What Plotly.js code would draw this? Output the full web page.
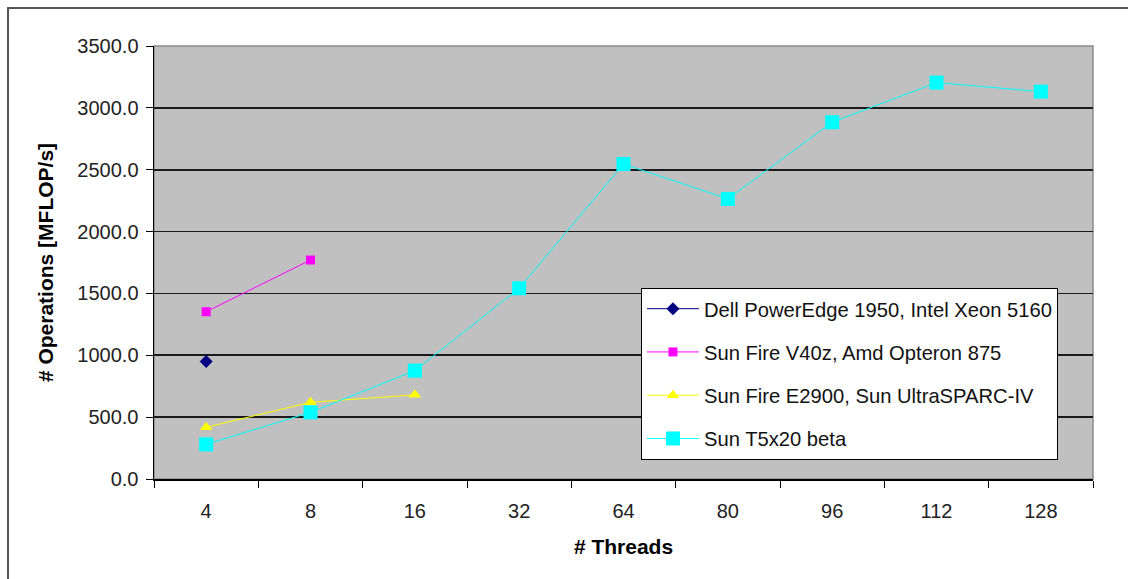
<!DOCTYPE html>
<html>
<head>
<meta charset="utf-8">
<script src="https://cdn.plot.ly/plotly-3.0.1.min.js"></script>
<style>
html,body{margin:0;padding:0;background:#fff;overflow:hidden;}
#wrap{position:relative;width:1128px;height:579px;}
#chart{width:1128px;height:579px;}
#frame{position:absolute;left:7px;top:7px;width:1140px;height:600px;border-left:2px solid #555;border-top:2px solid #555;pointer-events:none;}
</style>
</head>
<body>
<div id="wrap"><div id="chart"></div><div id="frame"></div></div>
<script>
const threads = ['4','8','16','32','64','80','96','112','128'];
const dellX = ['4'];
const dellY = [950];
const v40zX = ['4','8'];
const v40zY = [1352, 1770];
const e2900X = ['4','8','16'];
const e2900Y = [418, 620, 680];
const t5x20X = threads;
const t5x20Y = [280, 539, 876, 1542, 2546, 2264, 2884, 3204, 3131];
const seriesNames = [
  'Dell PowerEdge 1950, Intel Xeon 5160',
  'Sun Fire V40z, Amd Opteron 875',
  'Sun Fire E2900, Sun UltraSPARC-IV',
  'Sun T5x20 beta'
];

const FONT = 'Liberation Sans, Arial, sans-serif';

const traces = [
  {x: dellX, y: dellY, name: seriesNames[0], legendgroup:'a', mode:'lines+markers',
   line:{color:'#000080', width:1}, marker:{symbol:'diamond', size:10, color:'#000080'}},
  {x: v40zX, y: v40zY, name: seriesNames[1], legendgroup:'b', mode:'lines+markers',
   line:{color:'#FF00FF', width:1}, marker:{symbol:'square', size:9, color:'#FF00FF'}},
  {x: e2900X, y: e2900Y, name: seriesNames[2], legendgroup:'c', mode:'lines+markers',
   line:{color:'#FFFF00', width:1}, marker:{symbol:'triangle-up', size:11, color:'#FFFF00'}},
  {x: t5x20X, y: t5x20Y, name: seriesNames[3], legendgroup:'d', mode:'lines+markers',
   line:{color:'#00FFFF', width:1}, marker:{symbol:'square', size:14, color:'#00FFFF'}}
];

const layout = {
  width:1128, height:579,
  margin:{l:154, r:35, t:46, b:100},
  paper_bgcolor:'#ffffff',
  plot_bgcolor:'#C0C0C0',
  font:{family:FONT, size:20, color:'#222'},
  showlegend:true,
  legend:{x:0.5186, y:0.441, xanchor:'left', yanchor:'top',
    bgcolor:'#ffffff', bordercolor:'#000', borderwidth:1,
    font:{family:FONT, size:20.2, color:'#111'},
    traceorder:'grouped', tracegroupgap:14, itemwidth:52},
  xaxis:{type:'category', categoryorder:'array', categoryarray:threads,
    range:[-0.5, 8.5], tickson:'boundaries', ticks:'outside', ticklen:7,
    tickcolor:'#000', showline:true, linecolor:'#000', linewidth:1.5,
    showgrid:false, zeroline:false, fixedrange:true, ticklabelstandoff:13,
    tickfont:{family:FONT, size:20, color:'#222'},
    title:{text:'<b># Threads</b>', font:{family:FONT, size:21, color:'#000'}, standoff:19}},
  yaxis:{range:[0,3500], dtick:500, tickformat:'.1f', ticks:'outside', ticklen:7,
    tickcolor:'#000', showline:true, linecolor:'#000', linewidth:1.5,
    showgrid:true, gridcolor:'#1a1a1a', gridwidth:1.7, zeroline:false, fixedrange:true,
    ticklabelstandoff:3,
    tickfont:{family:FONT, size:20, color:'#222'},
    title:{text:'<b># Operations [MFLOP/s]</b>', font:{family:FONT, size:21, color:'#000'}, standoff:18}},
  shapes:[
    {type:'rect', xref:'paper', yref:'paper', x0:0, x1:1, y0:0, y1:1,
     line:{color:'#8a8a8a', width:1.5}, layer:'below'}
  ]
};

Plotly.newPlot('chart', traces, layout, {displayModeBar:false, staticPlot:true});
</script>
</body>
</html>
